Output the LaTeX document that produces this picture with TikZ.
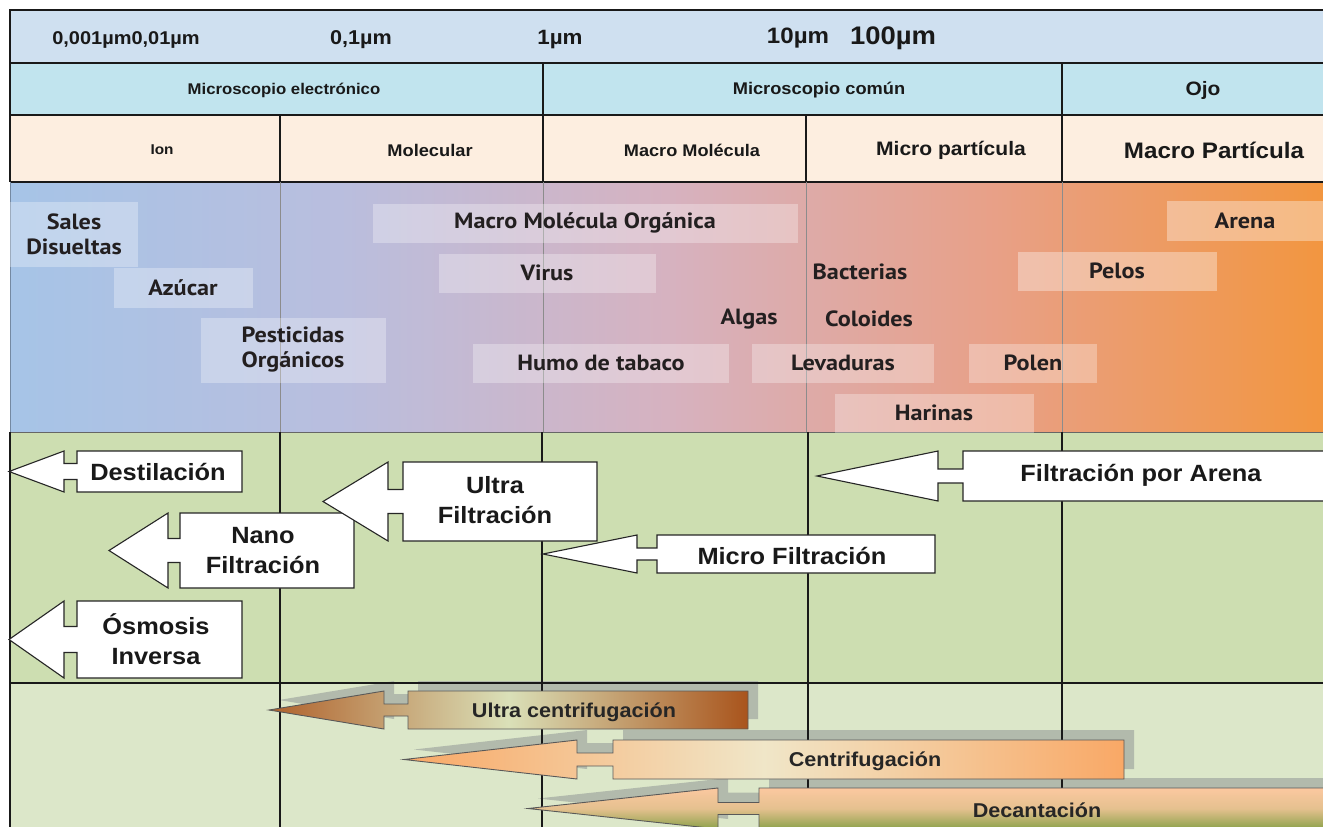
\documentclass[tikz,border=0pt]{standalone}
\usepackage{fontspec}
\newfontfamily\arialx[FakeStretch=1.08]{Liberation Sans}
\newfontfamily\ptx[FakeStretch=1.1]{PT Sans}
\usetikzlibrary{positioning}

\definecolor{rowA}{RGB}{207,224,240}
\definecolor{rowB}{RGB}{193,228,238}
\definecolor{rowC}{RGB}{253,238,224}
\definecolor{rowE}{RGB}{205,222,177}
\definecolor{rowF}{RGB}{220,231,201}
\definecolor{cA}{RGB}{166,196,231}
\definecolor{cB}{RGB}{185,190,222}
\definecolor{cC}{RGB}{214,178,192}
\definecolor{cD}{RGB}{232,160,135}
\definecolor{cE}{RGB}{242,150,64}
\definecolor{sombra}{RGB}{178,186,172}
\definecolor{tinta}{RGB}{35,31,32}
\definecolor{brA}{RGB}{176,98,44}
\definecolor{brL}{RGB}{218,224,184}
\definecolor{brB}{RGB}{169,84,28}
\definecolor{orA}{RGB}{249,168,102}
\definecolor{orL}{RGB}{240,230,200}
\definecolor{decT}{RGB}{251,200,160}
\definecolor{decB}{RGB}{140,162,74}

\pgfdeclarehorizontalshading{tamano}{100bp}{color(0bp)=(cA); color(25bp)=(cA);
  color(37.5bp)=(cB); color(50bp)=(cC); color(62.5bp)=(cD); color(75bp)=(cE); color(100bp)=(cE)}

\newcommand{\fsz}[2]{\fontsize{#1}{#2}\selectfont}
% tip x, head back x, body left x, body right x, top y, bottom y, neck half height
\newcommand{\flecha}[7]{(#1,{(#5+#6)/2}) -- (#2,#5) -- (#2,{(#5+#6)/2-#7}) -- (#3,{(#5+#6)/2-#7})
  -- (#3,#5) -- (#4,#5) -- (#4,#6) -- (#3,#6) -- (#3,{(#5+#6)/2+#7}) -- (#2,{(#5+#6)/2+#7})
  -- (#2,#6) -- cycle}

\begin{document}
\begin{tikzpicture}[x=1pt, y=-1pt,
  hdr/.style={font=\arialx\bfseries, text=black!90, inner sep=0pt},
  pbox/.style={fill=white, fill opacity=0.3, text opacity=1, inner sep=0pt,
               font=\ptx\bfseries\fsz{22}{25}, text=tinta, align=center},
  plab/.style={inner sep=0pt, font=\ptx\bfseries\fsz{22}{25}, text=tinta},
  sep/.style={draw=black!85, line width=1.1pt, fill=white},
  seplab/.style={font=\arialx\bfseries\fsz{23.5}{30}, align=center, text=black!90, inner sep=0pt},
  cen/.style={draw=black!65, line width=0.9pt},
  cenlab/.style={font=\arialx\bfseries\fsz{20}{24}, text=black!85, inner sep=0pt},
  sombra/.style={fill=sombra, shift={(10,-10)}},
  grid/.style={line width=1.1pt, draw=black!90},
  fino/.style={line width=0.8pt, draw=black!45}
]
\useasboundingbox (0,0) rectangle (1323,827);
\clip (0,0) rectangle (1323,827);
\fill[white] (0,0) rectangle (1323,827);

% rows
\fill[rowA] (10,10) rectangle (1323,63);
\fill[rowB] (10,63) rectangle (1323,115);
\fill[rowC] (10,115) rectangle (1323,182);
\shade[shading=tamano] (10,182) rectangle (1323,432);
\fill[rowE] (10,432) rectangle (1323,683);
\fill[rowF] (10,683) rectangle (1323,827);

% shadows of the bottom arrows
\fill[sombra] \flecha{269}{384}{408}{748}{691}{729}{6};
\fill[sombra] \flecha{404}{577}{613}{1124}{740}{779}{6.5};
\fill[sombra] \flecha{528}{718}{759}{1340}{788}{829}{6};

% grid
\draw[grid] (1323,10) -- (10,10) -- (10,182);
\draw[grid] (10,63) -- (1323,63);
\draw[grid] (10,115) -- (1323,115);
\draw[grid] (10,182) -- (1323,182);
\draw[grid] (543,63) -- (543,115) (1062,63) -- (1062,115);
\foreach \gx in {280,543,806,1062} \draw[grid] (\gx,115) -- (\gx,182);
\foreach \gx in {280,543,806,1062} \draw[fino] (\gx,182) -- (\gx,432);
\draw[fino, draw=cA!70!black] (10,182) -- (10,432);
\draw[fino, draw=black!60] (10,432) -- (1323,432);
\draw[grid] (10,432) -- (10,827);
\draw[grid] (10,683) -- (1323,683);
\foreach \gx in {280,542,808,1062} \draw[grid] (\gx,432) -- (\gx,827);

% header texts
\node[hdr, font=\arialx\bfseries\fsz{18.5}{22}] (s1) at (126,40) {0,001µm0,01µm};
\node[hdr, font=\arialx\bfseries\fsz{20}{24}] (s2) at (361,40) {0,1µm};
\node[hdr, font=\arialx\bfseries\fsz{20.7}{24}] (s3) at (560,40) {1µm};
\node[hdr, font=\arialx\bfseries\fsz{22.3}{26}] (s4) at (798,38) {10µm};
\node[hdr, font=\arialx\bfseries\fsz{25.4}{30}] (s5) at (893,38) {100µm};

\node[hdr, font=\arialx\bfseries\fsz{15.5}{18}] (eme) at (284,90) {Microscopio electrónico};
\node[hdr, font=\arialx\bfseries\fsz{16.9}{20}] (com) at (819,90) {Microscopio común};
\node[hdr, font=\arialx\bfseries\fsz{19.4}{23}] (ojo) at (1203,90) {Ojo};

\node[hdr, font=\arialx\bfseries\fsz{14.2}{17}] (ion) at (162,150) {Ion};
\node[hdr, font=\arialx\bfseries\fsz{16.9}{20}] (mol) at (430,150) {Molecular};
\node[hdr, font=\arialx\bfseries\fsz{16.8}{20}] (mmol) at (692,150) {Macro Molécula};
\node[hdr, font=\arialx\bfseries\fsz{19.5}{23}] (mpar) at (951,150) {Micro partícula};
\node[hdr, font=\arialx\bfseries\fsz{22.4}{26}] (Mpar) at (1214,150) {Macro Partícula};

% particles
\node[pbox, minimum width=128, minimum height=65] (sales) at (74,234) {Sales\\Disueltas};
\node[pbox, minimum width=139, minimum height=40] (azucar) at (183,288) {Azúcar};
\node[pbox, minimum width=185, minimum height=65] (pest) at (293,350) {Pesticidas\\Orgánicos};
\node[pbox, minimum width=425, minimum height=39] (mmo) at (585,223) {Macro Molécula Orgánica};
\node[pbox, minimum width=217, minimum height=39] (virus) at (547,273) {Virus};
\node[pbox, minimum width=256, minimum height=39] (humo) at (601,363) {Humo de tabaco};
\node[plab] (bact) at (860,272) {Bacterias};
\node[plab] (algas) at (749,319) {Algas};
\node[plab] (colo) at (869,319) {Coloides};
\node[pbox, minimum width=182, minimum height=39] (leva) at (843,363) {Levaduras};
\node[pbox, minimum width=128, minimum height=39] (polen) at (1033,363) {Polen};
\node[pbox, minimum width=199, minimum height=39] (harina) at (934,413) {Harinas};
\node[pbox, minimum width=199, minimum height=39, fill opacity=0.35] (pelos) at (1117,271) {Pelos};
\node[pbox, minimum width=157, minimum height=40, fill opacity=0.35] (arena) at (1245,221) {Arena};

% separation processes
\draw[sep] \flecha{9}{64}{77}{242}{451}{492}{8};
\node[seplab] (dest) at (158,472) {Destilación};
\draw[sep] \flecha{109}{168}{180}{354}{513}{588}{12};
\node[seplab] (nano) at (263,551) {Nano\\Filtración};
\draw[sep] \flecha{9}{64}{77}{242}{601}{678}{13};
\node[seplab] (osmo) at (156,639) {Ósmosis\\Inversa};
\draw[sep] \flecha{323}{388}{403}{597}{462}{541}{12};
\node[seplab] (ultra) at (495,500) {Ultra\\Filtración};
\draw[sep] \flecha{543}{637}{657}{935}{535}{573}{6};
\node[seplab] (micro) at (792,556) {Micro Filtración};
\draw[sep] \flecha{817}{938}{963}{1340}{451}{501}{7};
\node[seplab] (farena) at (1141,475) {Filtración por Arena};

% centrifugation and settling
\draw[cen, left color=brA, right color=brB, middle color=brL] \flecha{269}{384}{408}{748}{691}{729}{6};
\node[cenlab] (ucen) at (574,712) {Ultra centrifugación};
\draw[cen, left color=orA, right color=orA, middle color=orL] \flecha{404}{577}{613}{1124}{740}{779}{6.5};
\node[cenlab] (cent) at (865,761) {Centrifugación};
\draw[cen, top color=decT, bottom color=decB, middle color=decT!80!decB] \flecha{528}{718}{759}{1340}{788}{829}{6};
\node[cenlab] (deca) at (1037,810) {Decantación};
\end{tikzpicture}
\end{document}
